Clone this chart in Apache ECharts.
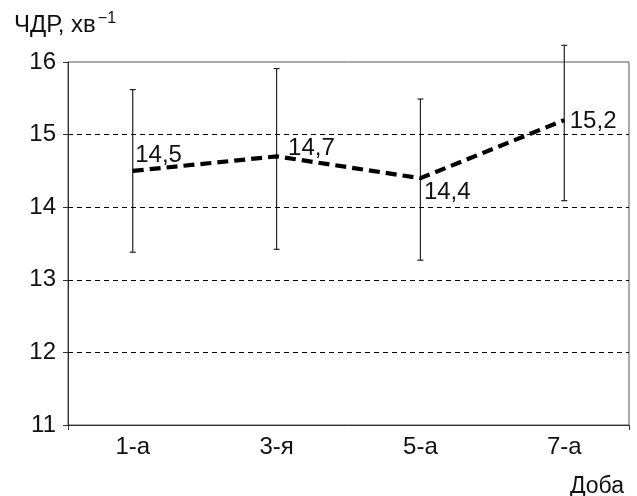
<!DOCTYPE html>
<html>
<head>
<meta charset="utf-8">
<script src="https://cdn.jsdelivr.net/npm/echarts@6/dist/echarts.min.js"></script>
<style>
  html, body { margin: 0; padding: 0; background: #fff; }
  #chart { width: 637px; height: 496px; }
</style>
</head>
<body>
<div id="chart"></div>
<script>
// Respiratory rate by day: mean with error range
const days = ['1-а', '3-я', '5-а', '7-а'];
const meanRate = [14.5, 14.7, 14.4, 15.2];
const lowRate = [13.38, 13.42, 13.27, 14.09];
const highRate = [15.62, 15.91, 15.49, 16.23];
const yTicks = [11, 12, 13, 14, 15, 16];
const gridValues = [12, 13, 14, 15];

const FONT = '"Liberation Sans", Arial, sans-serif';
const TXT = '#111';
const FS = 24;

// nudges for each value label, relative to its default right-hand spot
const labelShift = [
  { dx: -3, dy: -16 },
  { dx: 6, dy: -8 },
  { dx: -2, dy: 14 },
  { dx: 0, dy: 1 }
];

const lineData = meanRate.map((v, i) => [i, v]);
const errData = days.map((d, i) => [i, lowRate[i], highRate[i]]);

const chart = echarts.init(document.getElementById('chart'), null, { renderer: 'canvas' });
chart.setOption({
  animation: false,
  backgroundColor: '#fff',
  title: [
    {
      text: '{a|ЧДР, хв}{b|−1}',
      left: 9, top: 6,
      textStyle: {
        fontWeight: 'normal',
        rich: {
          a: { fontFamily: FONT, fontSize: 24, fontWeight: 'normal', color: TXT },
          b: { fontFamily: FONT, fontSize: 16, fontWeight: 'normal', color: TXT, padding: [0, 0, 13, 2] }
        }
      }
    },
    {
      text: 'Доба',
      right: 8, top: 470,
      textStyle: { fontFamily: FONT, fontSize: 23, fontWeight: 'normal', color: TXT }
    }
  ],
  grid: {
    left: 68, right: 8, top: 62, bottom: 71,
    show: true, borderColor: '#555', borderWidth: 1, backgroundColor: 'transparent'
  },
  xAxis: {
    type: 'value',
    min: -0.45, max: 3.45,
    axisLine: { show: true, onZero: false, lineStyle: { color: '#333', width: 1 } },
    axisTick: { show: true, length: 5, customValues: [-0.45, 3.45], lineStyle: { color: '#333' } },
    splitLine: { show: false },
    axisLabel: {
      customValues: [0, 1, 2, 3],
      formatter: v => days[Math.round(v)],
      fontFamily: FONT, fontSize: FS, color: TXT, margin: 10
    }
  },
  yAxis: {
    type: 'value',
    min: 11, max: 16, interval: 1,
    axisLine: { show: true, onZero: false, lineStyle: { color: '#333', width: 1 } },
    axisTick: { show: true, length: 5, lineStyle: { color: '#333' } },
    splitLine: { show: false },
    axisLabel: {
      fontFamily: FONT, fontSize: FS, color: TXT, margin: 12,
      formatter: v => (yTicks.indexOf(v) >= 0 ? String(v) : '')
    }
  },
  series: [
    {
      type: 'custom',
      z: 2,
      clip: false,
      data: errData,
      encode: { x: 0, y: [1, 2] },
      renderItem: function (params, api) {
        const x = api.value(0);
        const lo = api.coord([x, api.value(1)]);
        const hi = api.coord([x, api.value(2)]);
        const cap = 3;
        const style = { stroke: '#222', lineWidth: 1.2 };
        return {
          type: 'group',
          children: [
            { type: 'line', shape: { x1: lo[0], y1: lo[1], x2: hi[0], y2: hi[1] }, style },
            { type: 'line', shape: { x1: hi[0] - cap, y1: hi[1], x2: hi[0] + cap, y2: hi[1] }, style },
            { type: 'line', shape: { x1: lo[0] - cap, y1: lo[1], x2: lo[0] + cap, y2: lo[1] }, style }
          ]
        };
      }
    },
    {
      type: 'line',
      z: 3,
      data: lineData,
      symbol: 'circle',
      symbolSize: 1,
      showSymbol: true,
      itemStyle: { color: 'rgba(0,0,0,0)', borderWidth: 0 },
      lineStyle: { color: '#000', width: 4.2, type: [11, 6] },
      label: {
        show: true,
        position: 'right',
        fontFamily: FONT, fontSize: FS, color: TXT,
        formatter: p => String(p.value[1]).replace('.', ',')
      },
      labelLayout: function (params) {
        const s = labelShift[params.dataIndex];
        return { dx: s.dx, dy: s.dy, hideOverlap: false };
      },
      markLine: {
        silent: true,
        symbol: 'none',
        label: { show: false },
        lineStyle: { color: '#000', width: 1, type: [5, 4] },
        data: gridValues.map(v => ({ yAxis: v }))
      }
    }
  ]
});
</script>
</body>
</html>
